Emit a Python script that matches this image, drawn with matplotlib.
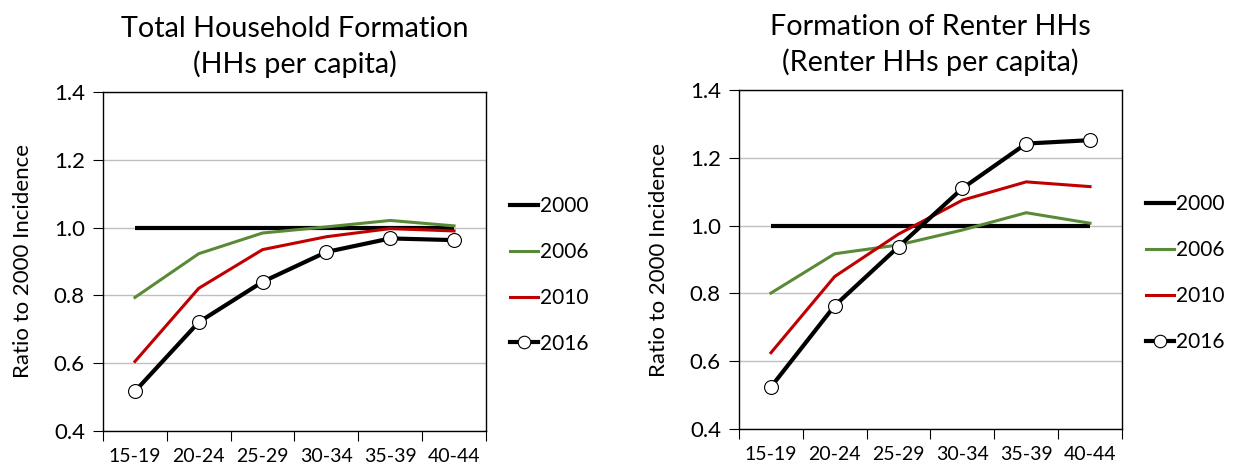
import numpy as np
import matplotlib.pyplot as plt
from matplotlib.lines import Line2D

plt.rcParams['font.family'] = ['Lato', 'DejaVu Sans']

# Age groups and ratio to 2000 incidence
age_groups = ["15-19", "20-24", "25-29", "30-34", "35-39", "40-44"]
years = ["2000", "2006", "2010", "2016"]

# Total household formation (HHs per capita)
total_2000 = [1.0, 1.0, 1.0, 1.0, 1.0, 1.0]
total_2006 = [0.794, 0.923, 0.984, 1.002, 1.021, 1.005]
total_2010 = [0.605, 0.821, 0.935, 0.973, 0.997, 0.990]
total_2016 = [0.517, 0.721, 0.840, 0.928, 0.968, 0.963]

# Formation of renter HHs (renter HHs per capita)
renter_2000 = [1.0, 1.0, 1.0, 1.0, 1.0, 1.0]
renter_2006 = [0.801, 0.917, 0.943, 0.987, 1.038, 1.007]
renter_2010 = [0.625, 0.850, 0.975, 1.075, 1.129, 1.115]
renter_2016 = [0.524, 0.764, 0.938, 1.110, 1.242, 1.252]

green = "#5A8A38"
red = "#C00000"

fig = plt.figure(figsize=(12.34, 4.68), dpi=100)
ax1 = fig.add_axes([0.0835, 0.0791, 0.3103, 0.7244])
ax2 = fig.add_axes([0.5989, 0.0833, 0.3103, 0.7244])


def draw_panel(ax, s2000, s2006, s2010, s2016, title):
    x = np.arange(len(age_groups))
    ax.plot(x, s2000, color="black", lw=3.0, solid_capstyle="butt", zorder=3)
    ax.plot(x, s2006, color=green, lw=2.2, zorder=3)
    ax.plot(x, s2010, color=red, lw=2.2, zorder=3)
    ax.plot(x, s2016, color="black", lw=3.0, marker="o", markersize=10,
            markerfacecolor="white", markeredgecolor="black",
            markeredgewidth=0.8, zorder=4)

    ax.set_xlim(-0.5, len(age_groups) - 0.5)
    ax.set_ylim(0.4, 1.4)
    ax.set_yticks(np.arange(0.4, 1.41, 0.2))
    ax.set_yticklabels([f"{v:.1f}" for v in np.arange(0.4, 1.41, 0.2)])
    ax.set_xticks(x)
    ax.set_xticklabels(age_groups)
    ax.set_xticks(np.arange(-0.5, len(age_groups)), minor=True)
    ax.tick_params(axis="x", which="major", length=0, labelsize=14, pad=12)
    ax.tick_params(axis="x", which="minor", length=7, width=0.8, direction="out")
    ax.tick_params(axis="y", length=7, width=0.8, labelsize=16, pad=6)
    ax.grid(axis="y", color="#BFBFBF", lw=1.0, zorder=0)
    for sp in ax.spines.values():
        sp.set_color("black")
        sp.set_linewidth(1.0)
    ax.set_ylabel("Ratio to 2000 Incidence", fontsize=16, labelpad=15)
    ax.set_title(title, fontsize=20.7, pad=14, linespacing=1.35)

    handles = [
        Line2D([], [], color="black", lw=3.0),
        Line2D([], [], color=green, lw=2.2),
        Line2D([], [], color=red, lw=2.2),
        Line2D([], [], color="black", lw=3.0, marker="o", markersize=9,
               markerfacecolor="white", markeredgecolor="black",
               markeredgewidth=0.8),
    ]
    ax.legend(handles, years, loc="center left", bbox_to_anchor=(1.063, 0.46),
              frameon=False, fontsize=15, handlelength=1.35,
              handletextpad=0.1, labelspacing=1.24, borderaxespad=0,
              borderpad=0)


draw_panel(ax1, total_2000, total_2006, total_2010, total_2016,
           "Total Household Formation\n(HHs per capita)")
draw_panel(ax2, renter_2000, renter_2006, renter_2010, renter_2016,
           "Formation of Renter HHs\n(Renter HHs per capita)")

fig.savefig("out.png", dpi=100)
